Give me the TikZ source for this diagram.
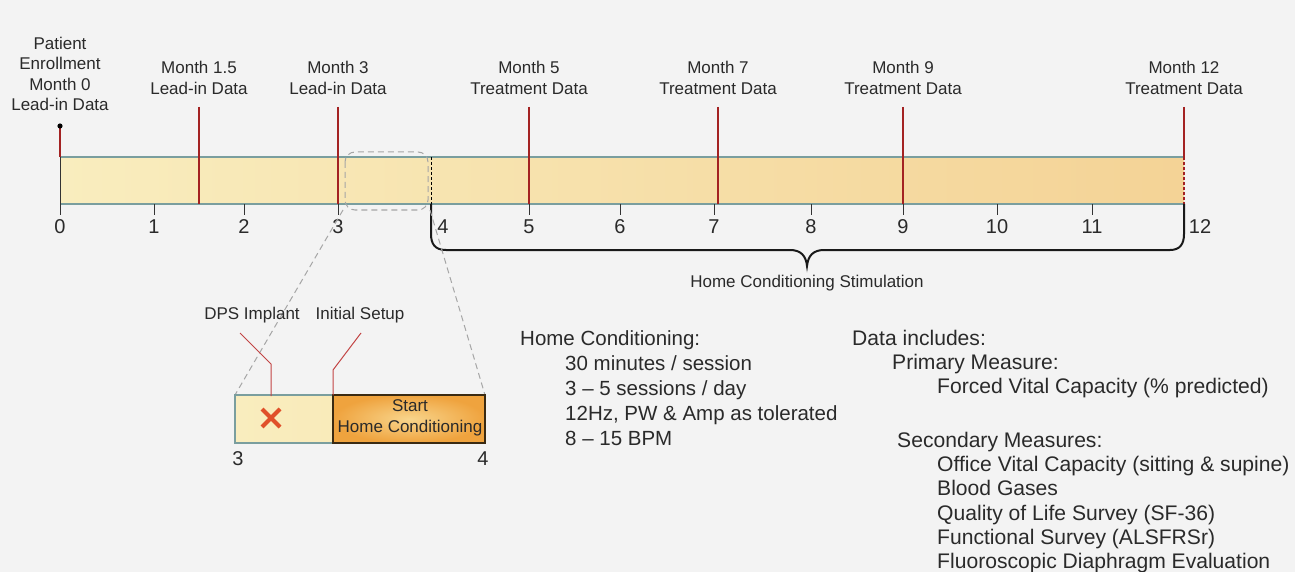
\documentclass[tikz,border=0pt]{standalone}
\usepackage{fontspec}
\setmainfont{Liberation Sans}
\newcommand\myfs[2]{\fontsize{#1}{#2}\selectfont}
\definecolor{bg}{HTML}{F3F3F3}
\definecolor{txt}{HTML}{2A2A2A}
\definecolor{barL}{HTML}{F9EDBE}
\definecolor{barR}{HTML}{F4D396}
\definecolor{barB}{HTML}{7A9E9E}
\definecolor{redc}{HTML}{A32222}
\definecolor{redl}{HTML}{C24444}
\definecolor{orIn}{HTML}{F8D58C}
\definecolor{orOut}{HTML}{EFA33E}
\definecolor{brownB}{HTML}{3A2A12}
\definecolor{xred}{HTML}{E0502A}
\begin{document}
\begin{tikzpicture}[x=1pt,y=-1pt,
  toplbl/.style={align=center, font=\myfs{17}{20.5}, text=txt, inner sep=0pt},
  ticklbl/.style={font=\myfs{20}{24}, text=txt, inner sep=0pt},
  smalllbl/.style={font=\myfs{17}{21}, text=txt, inner sep=0pt},
  body/.style={font=\myfs{20.5}{25}, text=txt, inner sep=0pt, anchor=base west},
  bodyb/.style={font=\myfs{21.1}{25}, text=txt, inner sep=0pt, anchor=base west},
  redln/.style={draw=redc, line width=1.3pt},
  thinred/.style={draw=redl, line width=1pt},
  tickln/.style={draw=black!80, line width=1pt},
  graydash/.style={draw=black!35, dashed, dash pattern=on 6pt off 4pt, line width=1pt},
  bracestyle/.style={draw=black!90, line width=2pt}
]
\fill[bg] (0,0) rectangle (1295,572);
\useasboundingbox (0,0) rectangle (1295,572);

% main bar
\shade[left color=barL, right color=barR] (60,157) rectangle (1184,204);
\draw[barB, line width=1.2pt] (60,157) -- (1184,157) (60,204) -- (1184,204);
\draw[tickln] (60,157) -- (60,215);
\draw[redc, dashed, dash pattern=on 3pt off 2pt, line width=1.3pt] (1184,157) -- (1184,204);
\draw[black, dashed, dash pattern=on 3pt off 2pt, line width=1pt] (431,157) -- (431,204);

% ticks and labels
\foreach \xx/\lab/\lx in {154/1/154, 244/2/244, 338/3/338, 431/4/443, 529/5/529, 620/6/620, 714/7/714, 811/8/811, 903/9/903, 997/10/997, 1092/11/1092} {
  \draw[tickln] (\xx,204) -- (\xx,215);
  \node[ticklbl] (t\lab) at (\lx,227) {\lab};
}
\node[ticklbl] (t0) at (60,227) {0};
\node[ticklbl] (t12) at (1200,227) {12};

% top labels
\node[toplbl] (m0) at (60,74) {Patient\\Enrollment\\Month 0\\Lead-in Data};
\node[toplbl] (m15) at (199,78) {Month 1.5\\Lead-in Data};
\node[toplbl] (m3) at (338,78) {Month 3\\Lead-in Data};
\node[toplbl] (m5) at (529,78) {Month 5\\Treatment Data};
\node[toplbl] (m7) at (718,78) {Month 7\\Treatment Data};
\node[toplbl] (m9) at (903,78) {Month 9\\Treatment Data};
\node[toplbl] (m12) at (1184,78) {Month 12\\Treatment Data};

% red markers
\coordinate (d0) at (60,126);
\coordinate (b0) at (60,157);
\draw[redln] (d0) -- (b0);
\fill[black] (d0) circle (2.6);
\foreach \nm/\xx in {m15/199, m3/338, m5/529, m7/718, m9/903} {
  \coordinate (\nm top) at (\xx,107);
  \coordinate (\nm bot) at (\xx,204);
  \draw[redln] (\nm top) -- (\nm bot);
}
\coordinate (m12top) at (1184,107);
\coordinate (m12bot) at (1184,157);
\draw[redln] (m12top) -- (m12bot);

% zoom window
\draw[graydash, rounded corners=10pt] (345,152) rectangle (428,210);
\coordinate (zl) at (343,210);
\coordinate (zr) at (430,210);

% brace
\draw[bracestyle] (431,204) -- (431,234) .. controls (431,244) and (435,250) .. (446,250)
  -- (790,250) .. controls (801,250) and (806,256) .. (807,266)
  .. controls (808,256) and (813,250) .. (824,250)
  -- (1170,250) .. controls (1180,250) and (1184,244) .. (1184,234) -- (1184,204);
\node[smalllbl] (brl) at (807,283) {Home Conditioning Stimulation};

% inset
\coordinate (il) at (235,395);
\coordinate (ir) at (485,395);
\draw[graydash] (zl) -- (il);
\draw[graydash] (zr) -- (ir);
\shade[left color=barL, right color=barL!90!barR] (235,395) rectangle (333,443);
\draw[barB, line width=1.2pt] (333,395) -- (235,395) -- (235,443) -- (333,443);
\shade[inner color=orIn, outer color=orOut] (333,395) rectangle (485,443);
\draw[brownB, line width=1.4pt] (333,395) rectangle (485,443);
\node[smalllbl, align=center] (shc) at (410,418) {Start\\Home Conditioning};
\draw[xred, line width=4pt] (262,409) -- (280,427) (262,427) -- (280,409);
\node[ticklbl] (i3) at (238,459) {3};
\node[ticklbl] (i4) at (483,459) {4};

\node[smalllbl] (dps) at (252,315) {DPS Implant};
\node[smalllbl] (ini) at (360,315) {Initial Setup};
\coordinate (dpsA) at (240,333);
\coordinate (dpsB) at (271,364);
\coordinate (dpsC) at (271,396);
\draw[thinred] (dpsA) -- (dpsB) -- (dpsC);
\coordinate (iniA) at (361,333);
\coordinate (iniB) at (333,370);
\coordinate (iniC) at (333,395);
\draw[thinred] (iniA) -- (iniB) -- (iniC);

% Home conditioning text
\node[body] (hc0) at (520,345) {Home Conditioning:};
\node[body] (hc1) at (565,370) {30 minutes / session};
\node[body] (hc2) at (565,395) {3 -- 5 sessions / day};
\node[body] (hc3) at (565,420) {12Hz, PW \& Amp as tolerated};
\node[body] (hc4) at (565,445) {8 -- 15 BPM};

% Data text
\node[bodyb] (d0t) at (852,345) {Data includes:};
\node[bodyb] (d1t) at (892,369) {Primary Measure:};
\node[bodyb] (d2t) at (937,393) {Forced Vital Capacity (\% predicted)};
\node[bodyb] (d3t) at (897,447) {Secondary Measures:};
\node[bodyb] (d4t) at (937,471) {Office Vital Capacity (sitting \& supine)};
\node[bodyb] (d5t) at (937,495) {Blood Gases};
\node[bodyb] (d6t) at (937,520) {Quality of Life Survey (SF-36)};
\node[bodyb] (d7t) at (937,544) {Functional Survey (ALSFRSr)};
\node[bodyb] (d8t) at (937,568) {Fluoroscopic Diaphragm Evaluation};
\end{tikzpicture}
\end{document}
